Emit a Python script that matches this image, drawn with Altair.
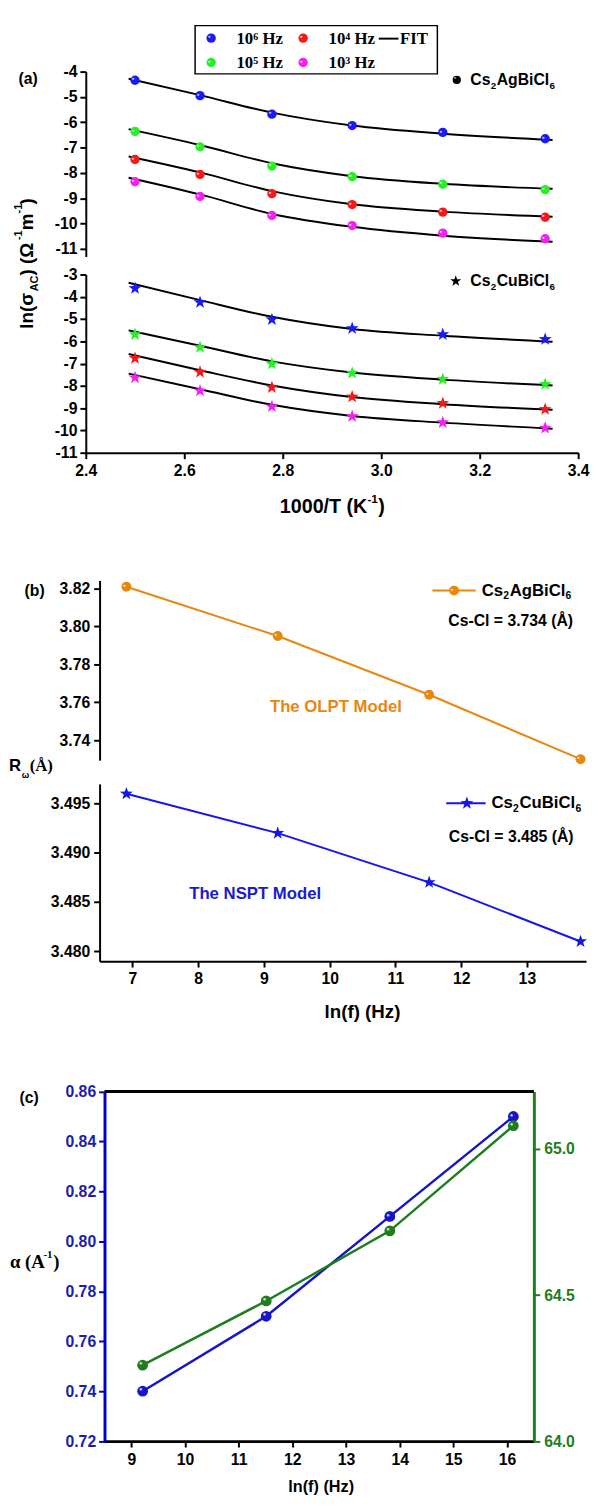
import altair as alt
import pandas as pd

# ---------------- data ----------------
# panel (a): 1000/T (K^-1) and ln(sigma_AC)
inv_T = [2.500, 2.632, 2.778, 2.941, 3.125, 3.333]
fit_T = [2.487, 2.632, 2.778, 2.941, 3.125, 3.348]
freq_names = ["10⁶ Hz", "10⁵ Hz", "10⁴ Hz", "10³ Hz"]
freq_colors = ["#1a1af5", "#27ee27", "#f01a1a", "#f022f0"]

ag_1e6 = [-4.34, -4.95, -5.68, -6.13, -6.40, -6.65]
ag_1e5 = [-6.36, -6.97, -7.73, -8.15, -8.45, -8.66]
ag_1e4 = [-7.47, -8.06, -8.82, -9.25, -9.55, -9.75]
ag_1e3 = [-8.35, -8.93, -9.68, -10.08, -10.38, -10.60]
ag_fit_1e6 = [-4.28, -4.93, -5.62, -6.13, -6.45, -6.70]
ag_fit_1e5 = [-6.27, -6.90, -7.62, -8.13, -8.43, -8.63]
ag_fit_1e4 = [-7.35, -7.98, -8.72, -9.24, -9.53, -9.73]
ag_fit_1e3 = [-8.19, -8.85, -9.62, -10.13, -10.48, -10.72]

cu_1e6 = [-3.62, -4.25, -5.02, -5.42, -5.69, -5.91]
cu_1e5 = [-5.69, -6.27, -7.01, -7.42, -7.70, -7.93]
cu_1e4 = [-6.76, -7.38, -8.07, -8.49, -8.78, -9.05]
cu_1e3 = [-7.63, -8.22, -8.93, -9.37, -9.64, -9.89]
cu_fit_1e6 = [-3.37, -4.15, -4.90, -5.45, -5.75, -6.02]
cu_fit_1e5 = [-5.51, -6.20, -6.90, -7.40, -7.72, -7.98]
cu_fit_1e4 = [-6.57, -7.30, -7.98, -8.50, -8.82, -9.07]
cu_fit_1e3 = [-7.45, -8.15, -8.85, -9.35, -9.65, -9.92]

# panel (b): ln(f) and R_omega
lnf_b = [6.908, 9.210, 11.513, 13.816]
r_ag = [3.821, 3.795, 3.764, 3.730]
r_cu = [3.496, 3.492, 3.487, 3.481]

# panel (c): ln(f), alpha and right-axis quantity
lnf_c = [9.210, 11.513, 13.816, 16.118]
alpha_c = [0.740, 0.770, 0.810, 0.850]
right_c = [64.26, 64.48, 64.72, 65.08]

# five-pointed star as a custom symbol path (Vega has no built-in star)
STAR = ("M0,-1L0.235,-0.324L0.951,-0.309L0.38,0.124L0.588,0.809L0,0.4"
        "L-0.588,0.809L-0.38,0.124L-0.951,-0.309L-0.235,-0.324Z")

# ---------------- layout helpers ----------------
OX = 86  # page x of every row's plot-area left edge
ROWS = {1: (60, 197), 2: (257, 190), 3: (447, 324), 4: (771, 192.3), 5: (963.3, 486.7)}

def X(v):
    return v - OX

def Yr(v, row):
    return v - ROWS[row][0]

def long(xs, names, series):
    rows = []
    for n, ys in zip(names, series):
        for x, y in zip(xs, ys):
            rows.append({"x": x, "y": y, "s": n})
    return pd.DataFrame(rows)

one = pd.DataFrame({"k": [0]})

def T(row, text, x, y, size=16, color="black", font="Liberation Sans", weight="bold",
      align="center", angle=0):
    return alt.Chart(one).mark_text(
        text=text, fontSize=size, color=color, font=font, fontWeight=weight,
        align=align, baseline="middle", angle=angle
    ).encode(x=alt.value(X(x)), y=alt.value(Yr(y, row)))

def P(row, x, y, color, size=90, shape="circle"):
    return alt.Chart(one).mark_point(filled=True, opacity=1, shape=shape, size=size,
                                     color=color).encode(
        x=alt.value(X(x)), y=alt.value(Yr(y, row)))

def HL(row, x, y, size=5):
    # small specular highlight on a ball symbol
    return alt.Chart(one).mark_text(text="●", fontSize=size, color="white", opacity=0.75,
                                    dx=-1.8, dy=-1.8).encode(
        x=alt.value(X(x)), y=alt.value(Yr(y, row)))

def R(row, x1, x2, y, color="black", w=2):
    return alt.Chart(one).mark_rule(color=color, strokeWidth=w).encode(
        x=alt.value(X(x1)), x2=alt.value(X(x2)), y=alt.value(Yr(y, row)))

def shine(df, xenc, yenc, size=5):
    return alt.Chart(df).mark_text(text="●", fontSize=size, color="white", opacity=0.75,
                                   dx=-1.8, dy=-1.8).encode(x=xenc, y=yenc)

# Arial-bold advance widths, used to place subscript pieces of formulas
WID = {"C": .722, "s": .556, "A": .722, "g": .611, "B": .722, "i": .278, "l": .278,
       "u": .611, "2": .556, "6": .556}

def chem(row, x0, y, size, parts):
    out = []
    x = x0
    for txt, sub in parts:
        fs = size * 0.62 if sub else size
        yy = y + size * 0.33 if sub else y
        out.append(T(row, txt, x, yy, fs, align="left"))
        x += sum(WID[c] for c in txt) * fs + (0.6 if sub else 0.2)
    return out

AG = [("Cs", False), ("2", True), ("AgBiCl", False), ("6", True)]
CU = [("Cs", False), ("2", True), ("CuBiCl", False), ("6", True)]

base_axis = dict(domainColor="black", domainWidth=2, tickColor="black", tickWidth=2,
                 tickSize=6, labelColor="black", labelFont="Liberation Sans",
                 labelFontWeight="bold", labelFontSize=16, labelPadding=3,
                 grid=False, title=None, labelFlush=False, labelOverlap=False)

def ax(**kw):
    d = dict(base_axis)
    d.update(kw)
    return alt.Axis(**d)

colsc = alt.Scale(domain=freq_names, range=freq_colors)

# ---------------- panel (a) ----------------
sx_a = alt.Scale(domain=[2.4, 3.4], nice=False, zero=False)
sy_a_up = alt.Scale(domain=[-11.3, -4.0], range=[Yr(247.7, 1), Yr(60, 1)], nice=False, zero=False)
sy_a_lo = alt.Scale(domain=[-11.0, -3.0], range=[Yr(447, 2), Yr(266, 2)], nice=False, zero=False)

ax_a_up = ax(orient="left", values=[-4, -5, -6, -7, -8, -9, -10, -11],
             labelExpr="toString(datum.value)")
ax_a_lo = ax(orient="left", values=[-3, -4, -5, -6, -7, -8, -9, -10, -11],
             labelExpr="toString(datum.value)")
ax_a_x = ax(orient="bottom", values=[2.4, 2.6, 2.8, 3.0, 3.2, 3.4],
            format=".1f", labelPadding=4)

ag_pts = long(inv_T, freq_names, [ag_1e6, ag_1e5, ag_1e4, ag_1e3])
ag_fit = long(fit_T, freq_names, [ag_fit_1e6, ag_fit_1e5, ag_fit_1e4, ag_fit_1e3])
cu_pts = long(inv_T, freq_names, [cu_1e6, cu_1e5, cu_1e4, cu_1e3])
cu_fit = long(fit_T, freq_names, [cu_fit_1e6, cu_fit_1e5, cu_fit_1e4, cu_fit_1e3])

xa_up = alt.X("x:Q", scale=sx_a, axis=None)
ya_up = alt.Y("y:Q", scale=sy_a_up, axis=ax_a_up)

row1 = alt.layer(
    alt.Chart(one).mark_point(filled=True, color="white", size=1, opacity=1).encode(
        x=alt.value(X(8)), y=alt.value(Yr(8, 1))),
    alt.Chart(one).mark_rect(fill="white", stroke="black", strokeWidth=1.5).encode(
        x=alt.value(X(197)), x2=alt.value(X(443)), y=alt.value(Yr(13.3, 1)),
        y2=alt.value(Yr(62.3, 1))),
    alt.Chart(ag_fit).mark_line(color="black", strokeWidth=2, interpolate="monotone").encode(
        x=xa_up, y=ya_up, detail="s:N"),
    alt.Chart(ag_pts).mark_circle(size=90, opacity=1).encode(
        x=xa_up, y=ya_up, color=alt.Color("s:N", scale=colsc, legend=None)),
    shine(ag_pts, xa_up, ya_up),
    P(1, 213.3, 26, freq_colors[0]), HL(1, 213.3, 26),
    T(1, freq_names[0], 239, 27, 17, font="Liberation Serif", align="left"),
    P(1, 306.7, 26, freq_colors[2]), HL(1, 306.7, 26),
    T(1, freq_names[2], 332.5, 27, 17, font="Liberation Serif", align="left"),
    P(1, 213.3, 50.7, freq_colors[1]), HL(1, 213.3, 50.7),
    T(1, freq_names[1], 239, 51.5, 17, font="Liberation Serif", align="left"),
    P(1, 306.7, 50.7, freq_colors[3]), HL(1, 306.7, 50.7),
    T(1, freq_names[3], 332.5, 51.5, 17, font="Liberation Serif", align="left"),
    R(1, 383.5, 403.5, 26.5, "black", 2),
    T(1, "FIT", 405, 27, 17, font="Liberation Serif", align="left"),
    P(1, 462.7, 68.5, "black", 70), HL(1, 462.7, 68.5, 4),
    *chem(1, 476.5, 69, 16, AG),
    T(1, "(a)", 27.5, 68, 16),
    # rotated y title
    T(1, ") (Ω", 26, 267, 19, align="left", angle=270),
    T(1, "-1", 18, 231, 11, align="left", angle=270),
    T(1, "m", 26, 221, 19, align="left", angle=270),
    T(1, "-1", 18, 204, 11, align="left", angle=270),
    T(1, ")", 26, 195, 19, align="left", angle=270),
    T(1, "ln(σ", 26, 321, 19, align="left", angle=270),
    T(1, "AC", 34, 283, 11, align="left", angle=270),
).properties(width=500, height=ROWS[1][1])

row2 = alt.layer(
    alt.Chart(cu_fit).mark_line(color="black", strokeWidth=2, interpolate="monotone").encode(
        x=alt.X("x:Q", scale=sx_a, axis=ax_a_x),
        y=alt.Y("y:Q", scale=sy_a_lo, axis=ax_a_lo),
        detail="s:N"),
    alt.Chart(cu_pts).mark_point(shape=STAR, filled=True, size=190, opacity=1).encode(
        x=alt.X("x:Q", scale=sx_a, axis=ax_a_x),
        y=alt.Y("y:Q", scale=sy_a_lo, axis=ax_a_lo),
        color=alt.Color("s:N", scale=colsc, legend=None)),
    P(2, 461.7, 272.7, "black", 140, STAR),
    *chem(2, 476.5, 273, 16, CU),
    T(2, "1000/T (K", 283, 502, 20, align="left"),
    T(2, "-1", 372, 494, 12, align="left"),
    T(2, ")", 383, 502, 20, align="left"),
).properties(width=500, height=ROWS[2][1])

# ---------------- panel (b) ----------------
ORANGE = "#e8870e"
BLUE_B = "#1414f0"
WB = 508
sx_b = alt.Scale(domain=[6.5, 13.9], range=[X(100), X(594)], nice=False, zero=False)
sy_b_up = alt.Scale(domain=[3.7295, 3.8243], range=[Yr(759.2, 3), Yr(576.7, 3)], nice=False, zero=False)
sy_b_lo = alt.Scale(domain=[3.479, 3.497], range=[Yr(963.3, 4), Yr(783.3, 4)], nice=False, zero=False)

ax_b_up = ax(orient="left", offset=-14, values=[3.74, 3.76, 3.78, 3.80, 3.82], format=".2f",
             labelPadding=4)
ax_b_lo = ax(orient="left", offset=-14, values=[3.480, 3.485, 3.490, 3.495], format=".3f",
             labelPadding=4)
ax_b_x = ax(orient="bottom", values=[7, 8, 9, 10, 11, 12, 13], format="d", labelPadding=4)

df_b_ag = pd.DataFrame({"x": lnf_b, "y": r_ag})
df_b_cu = pd.DataFrame({"x": lnf_b, "y": r_cu})
xb_up = alt.X("x:Q", scale=sx_b, axis=None)
yb_up = alt.Y("y:Q", scale=sy_b_up, axis=ax_b_up)

row3 = alt.layer(
    alt.Chart(df_b_ag).mark_line(color=ORANGE, strokeWidth=2).encode(x=xb_up, y=yb_up),
    alt.Chart(df_b_ag).mark_circle(color=ORANGE, size=100, opacity=1).encode(x=xb_up, y=yb_up),
    shine(df_b_ag, xb_up, yb_up),
    T(3, "(b)", 34, 587, 16),
    R(3, 438, 482, 587, ORANGE, 2),
    P(3, 460, 587, ORANGE, 100), HL(3, 460, 587),
    *chem(3, 488, 587, 17, AG),
    T(3, "Cs-Cl = 3.734 (Å)", 517.5, 618, 16),
    T(3, "The OLPT Model", 340, 705, 17, color=ORANGE),
    T(3, "R", 8, 765, 17, align="left"),
    T(3, "ω", 21, 774, 9, align="left"),
    T(3, "(Å)", 29, 765, 17, font="Liberation Serif", align="left"),
).properties(width=WB, height=ROWS[3][1])

row4 = alt.layer(
    alt.Chart(df_b_cu).mark_line(color=BLUE_B, strokeWidth=2).encode(
        x=alt.X("x:Q", scale=sx_b, axis=ax_b_x), y=alt.Y("y:Q", scale=sy_b_lo, axis=ax_b_lo)),
    alt.Chart(df_b_cu).mark_point(shape=STAR, filled=True, color=BLUE_B, size=190, opacity=1).encode(
        x=alt.X("x:Q", scale=sx_b, axis=ax_b_x), y=alt.Y("y:Q", scale=sy_b_lo, axis=ax_b_lo)),
    R(4, 452, 492, 803, BLUE_B, 2),
    P(4, 473, 803, BLUE_B, 190, STAR),
    *chem(4, 498, 803, 17, CU),
    T(4, "Cs-Cl = 3.485 (Å)", 518, 837, 16),
    T(4, "The NSPT Model", 258, 895, 17, color="#1a1acc"),
    T(4, "ln(f) (Hz)", 367, 1015, 19),
).properties(width=WB, height=ROWS[4][1])

# ---------------- panel (c) ----------------
BLUE_C = "#1515c8"
GREEN_C = "#1f7d1f"
WC = 455
sx_c = alt.Scale(domain=[8.5, 16.5], range=[X(105), X(541)], nice=False, zero=False)
sy_c_l = alt.Scale(domain=[0.72, 0.86], range=[Yr(1450, 5), Yr(1095, 5)], nice=False, zero=False)
sy_c_r = alt.Scale(domain=[64.0, 65.197], range=[Yr(1450, 5), Yr(1095, 5)], nice=False, zero=False)

ax_c_l = ax(orient="left", offset=-19, values=[0.72, 0.74, 0.76, 0.78, 0.80, 0.82, 0.84, 0.86],
            format=".2f", domainColor="#0000c8", tickColor="#0000c8", labelColor="#1c1cb0",
            domainWidth=3, labelPadding=3)
ax_c_r = ax(orient="right", values=[64.0, 64.5, 65.0], format=".1f",
            domainColor=GREEN_C, tickColor=GREEN_C, labelColor=GREEN_C,
            domainWidth=3, labelPadding=4)
ax_c_x = ax(orient="bottom", values=[9, 10, 11, 12, 13, 14, 15, 16], format="d",
            domainWidth=3, labelPadding=5)

df_c_a = pd.DataFrame({"x": lnf_c, "y": alpha_c})
df_c_r = pd.DataFrame({"x": lnf_c, "y": right_c})
xc = alt.X("x:Q", scale=sx_c, axis=ax_c_x)
yc_l = alt.Y("y:Q", scale=sy_c_l, axis=ax_c_l)
yc_r = alt.Y("y:Q", scale=sy_c_r, axis=ax_c_r)

c_left = alt.layer(
    alt.Chart(df_c_a).mark_line(color=BLUE_C, strokeWidth=2.5).encode(x=xc, y=yc_l),
    alt.Chart(df_c_a).mark_circle(color=BLUE_C, size=120, opacity=1).encode(x=xc, y=yc_l),
    shine(df_c_a, xc, yc_l, 6),
)
c_right = alt.layer(
    alt.Chart(df_c_r).mark_line(color=GREEN_C, strokeWidth=2.5).encode(x=xc, y=yc_r),
    alt.Chart(df_c_r).mark_circle(color=GREEN_C, size=120, opacity=1).encode(x=xc, y=yc_r),
    shine(df_c_r, xc, yc_r, 6),
)
c_deco = alt.layer(
    R(5, 105, 541, 1095, "black", 3),
    T(5, "(c)", 28.5, 1102, 16),
    T(5, "α (A", 9, 1268, 19, font="Liberation Serif", align="left"),
    T(5, "-1", 43, 1261, 11, font="Liberation Serif", align="left"),
    T(5, ")", 53, 1268, 19, font="Liberation Serif", align="left"),
    T(5, "ln(f) (Hz)", 325, 1497, 16.5),
)
row5 = alt.layer(c_left, c_right, c_deco).resolve_scale(y="independent").properties(
    width=WC, height=ROWS[5][1])

chart = alt.vconcat(row1, row2, row3, row4, row5, spacing=0, bounds="flush").properties(
    padding=0).configure_view(stroke=None)

chart.save("out.html", embed_options={"renderer": "svg", "actions": False})
